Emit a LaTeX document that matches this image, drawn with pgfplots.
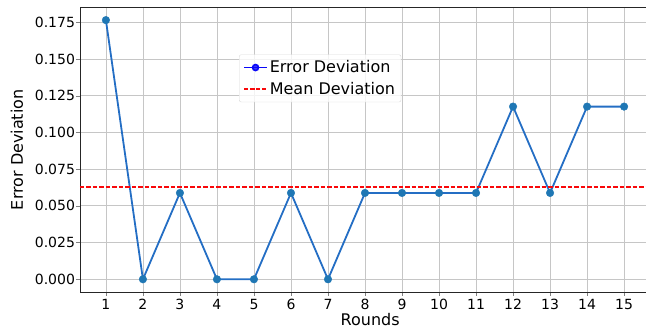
\documentclass[border=0pt]{standalone}
\usepackage{pgfplots}
\pgfplotsset{compat=1.18}
\usepackage{fontspec}
\setmainfont{DejaVu Sans}
\definecolor{lineblue}{RGB}{36,110,196}
\definecolor{markblue}{RGB}{31,119,180}
\definecolor{mred}{RGB}{248,8,10}
\definecolor{mblue}{RGB}{10,8,248}
\begin{document}
\begin{tikzpicture}[x=1pt,y=1pt]
\begin{axis}[
  at={(0,0)}, anchor=south west,
  scale only axis, width=570pt, height=285pt,
  xmin=0.3, xmax=15.7, ymin=-0.0088, ymax=0.1853,
  xtick={1,...,15},
  ytick={0,0.025,0.05,0.075,0.1,0.125,0.15,0.175},
  /pgf/number format/assume math mode=true,
  yticklabel style={xshift=2pt, /pgf/number format/.cd,fixed,fixed zerofill,precision=3},
  scaled y ticks=false,
  tick label style={font=\fontsize{14}{16}\selectfont, black},
  tick align=outside, tick pos=left,
  major tick length=3.5pt,
  axis line style={black!85, line width=0.9pt},
  grid=major,
  major grid style={gray!45, line width=0.8pt},
  every axis y label/.style={at={(axis description cs:-0.1105,0.5)},rotate=90,anchor=center,font=\fontsize{16}{18}\selectfont},
  every axis x label/.style={at={(axis description cs:0.509,0)},yshift=-27.8pt,anchor=center,font=\fontsize{16}{18}\selectfont},
  xlabel={Rounds}, ylabel={Error Deviation},
  legend style={at={(rel axis cs:0.279,0.834)}, anchor=north west,
    draw=gray!30, rounded corners=2pt, fill=white, fill opacity=0.8, text opacity=1,
    font=\fontsize{16}{18}\selectfont, inner sep=4pt, row sep=4pt},
  legend cell align=left,
  legend image code/.code={\draw[mark repeat=2,mark phase=2,#1] plot coordinates {(0pt,0pt) (11.5pt,0pt) (23pt,0pt)};},
]
\addplot[draw=lineblue, line width=1.8pt, forget plot] coordinates {
(1,0.1765) (2,0) (3,0.0588) (4,0) (5,0) (6,0.0588) (7,0) (8,0.0588)
(9,0.0588) (10,0.0588) (11,0.0588) (12,0.1176) (13,0.0588) (14,0.1176) (15,0.1176)
};
\addplot[only marks, mark=*, mark size=3.8pt, mark options={solid, fill=markblue, draw=markblue}, forget plot] coordinates {
(1,0.1765) (2,0) (3,0.0588) (4,0) (5,0) (6,0.0588) (7,0) (8,0.0588)
(9,0.0588) (10,0.0588) (11,0.0588) (12,0.1176) (13,0.0588) (14,0.1176) (15,0.1176)
};
\addplot[draw=mred, line width=1.5pt, dash pattern={on 4.5pt off 2pt}, forget plot]
  coordinates {(0.3,0.0627) (15.7,0.0627)};
\addlegendimage{draw=mblue, line width=1.6pt, mark=*, mark size=3pt, mark options={solid,fill=mblue,draw=mblue}}
\addlegendentry{Error Deviation}
\addlegendimage{draw=mred, line width=1.5pt, dash pattern={on 4pt off 2pt}}
\addlegendentry{Mean Deviation}
\end{axis}
\pgfresetboundingbox
\useasboundingbox (-80,-36.8) rectangle (566,292.2);
\end{tikzpicture}
\end{document}
